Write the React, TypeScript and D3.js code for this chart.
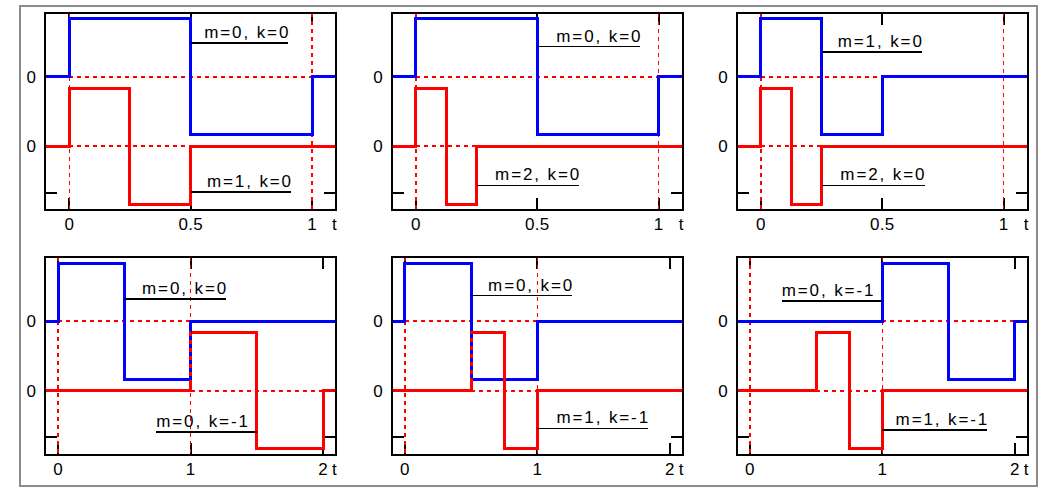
import React, { useEffect, useRef } from "react";
import * as d3 from "d3";

const W = 1057;
const H = 496;

// ---- axes ----
const xDomainTop: [number, number] = [-0.1, 1.1];
const xDomainBottom: [number, number] = [-0.1, 2.1];
const xTicksTop = [0, 0.5, 1];
const xTickLabelsTop = ["0", "0.5", "1"];
const xTicksBottom = [0, 1, 2];
const xTickLabelsBottom = ["0", "1", "2"];
const yDomain: [number, number] = [-1.1, 2.3];
const yTicks = [-0.8];
const channelOffsets = [1.2, 0]; // blue channel, red channel
const zeroLabels = ["0", "0"];
const guideX = [0, 1];
const axisTitle = "t";

// ---- step series: breakpoints t and the value held from each breakpoint ----
const p1BlueT = [-0.1, 0, 0.5, 1, 1.1];
const p1BlueV = [0, 1, -1, 0, 0];
const p1RedT = [-0.1, 0, 0.25, 0.5, 1.1];
const p1RedV = [0, 1, -1, 0, 0];

const p2BlueT = [-0.1, 0, 0.5, 1, 1.1];
const p2BlueV = [0, 1, -1, 0, 0];
const p2RedT = [-0.1, 0, 0.125, 0.25, 1.1];
const p2RedV = [0, 1, -1, 0, 0];

const p3BlueT = [-0.1, 0, 0.25, 0.5, 1.1];
const p3BlueV = [0, 1, -1, 0, 0];
const p3RedT = [-0.1, 0, 0.125, 0.25, 1.1];
const p3RedV = [0, 1, -1, 0, 0];

const p4BlueT = [-0.1, 0, 0.5, 1, 2.1];
const p4BlueV = [0, 1, -1, 0, 0];
const p4RedT = [-0.1, 1, 1.5, 2, 2.1];
const p4RedV = [0, 1, -1, 0, 0];

const p5BlueT = [-0.1, 0, 0.5, 1, 2.1];
const p5BlueV = [0, 1, -1, 0, 0];
const p5RedT = [-0.1, 0.5, 0.75, 1, 2.1];
const p5RedV = [0, 1, -1, 0, 0];

const p6BlueT = [-0.1, 1, 1.5, 2, 2.1];
const p6BlueV = [0, 1, -1, 0, 0];
const p6RedT = [-0.1, 0.5, 0.75, 1, 2.1];
const p6RedV = [0, 1, -1, 0, 0];

// ---- annotations: text, text start (data x), underline (data y), leader target (data x) ----
const blueLabelTexts = ["m=0, k=0", "m=0, k=0", "m=1, k=0", "m=0, k=0", "m=0, k=0", "m=0, k=-1"];
const blueLabelX = [0.556, 0.578, 0.316, 0.633, 0.628, 0.24];
const blueLabelY = [1.78, 1.72, 1.63, 1.58, 1.64, 1.55];
const blueLabelTarget = [0.5, 0.5, 0.25, 0.5, 0.5, 1];

const redLabelTexts = ["m=1, k=0", "m=2, k=0", "m=2, k=0", "m=0, k=-1", "m=1, k=-1", "m=1, k=-1"];
const redLabelX = [0.567, 0.326, 0.327, 0.74, 1.144, 1.1];
const redLabelY = [-0.78, -0.67, -0.67, -0.71, -0.65, -0.68];
const redLabelTarget = [0.5, 0.25, 0.25, 1.5, 1, 1];

// ---- layout ----
const colLeft = [45, 391.7, 736.7];
const boxW = 291.3;
const rowTop = [13, 257.3];
const boxH = 197.3;

const BLUE = "#0000ff";
const RED = "#ff0000";
const FONT = "'Liberation Sans', Arial, sans-serif";

const seriesT = [
  [p1BlueT, p1RedT],
  [p2BlueT, p2RedT],
  [p3BlueT, p3RedT],
  [p4BlueT, p4RedT],
  [p5BlueT, p5RedT],
  [p6BlueT, p6RedT],
];
const seriesV = [
  [p1BlueV, p1RedV],
  [p2BlueV, p2RedV],
  [p3BlueV, p3RedV],
  [p4BlueV, p4RedV],
  [p5BlueV, p5RedV],
  [p6BlueV, p6RedV],
];

export default function App() {
  const ref = useRef<SVGSVGElement>(null);

  useEffect(() => {
    const svg = d3.select(ref.current);
    svg.selectAll("*").remove();

    // outer frame
    svg
      .append("rect")
      .attr("x", 19.5)
      .attr("y", 5.5)
      .attr("width", 1017)
      .attr("height", 480.5)
      .attr("fill", "none")
      .attr("stroke", "#8c8c8c")
      .attr("stroke-width", 2)
      .attr("shape-rendering", "crispEdges");

    for (let p = 0; p < 6; p++) {
      const row = p < 3 ? 0 : 1;
      const col = p % 3;
      const L = colLeft[col];
      const T = rowTop[row];
      const xDomain = row === 0 ? xDomainTop : xDomainBottom;
      const xTicks = row === 0 ? xTicksTop : xTicksBottom;
      const xTickLabels = row === 0 ? xTickLabelsTop : xTickLabelsBottom;

      const x = d3.scaleLinear().domain(xDomain).range([L, L + boxW]);
      const y = d3.scaleLinear().domain(yDomain).range([T + boxH, T]);

      const g = svg.append("g");
      const clipId = `clip${p}`;
      g.append("clipPath")
        .attr("id", clipId)
        .append("rect")
        .attr("x", L)
        .attr("y", T)
        .attr("width", boxW)
        .attr("height", boxH);

      const inner = g
        .append("g")
        .attr("clip-path", `url(#${clipId})`)
        .attr("shape-rendering", "crispEdges");

      // ticks (inward, all four sides)
      const tickLen = 12;
      xTicks.forEach((t) => {
        inner
          .append("line")
          .attr("x1", x(t))
          .attr("x2", x(t))
          .attr("y1", T + boxH)
          .attr("y2", T + boxH - tickLen)
          .attr("stroke", "#000")
          .attr("stroke-width", 2);
        inner
          .append("line")
          .attr("x1", x(t))
          .attr("x2", x(t))
          .attr("y1", T)
          .attr("y2", T + tickLen)
          .attr("stroke", "#000")
          .attr("stroke-width", 2);
      });
      yTicks.forEach((v) => {
        inner
          .append("line")
          .attr("x1", L)
          .attr("x2", L + tickLen)
          .attr("y1", y(v))
          .attr("y2", y(v))
          .attr("stroke", "#000")
          .attr("stroke-width", 2);
        inner
          .append("line")
          .attr("x1", L + boxW - tickLen)
          .attr("x2", L + boxW)
          .attr("y1", y(v))
          .attr("y2", y(v))
          .attr("stroke", "#000")
          .attr("stroke-width", 2);
      });

      // dashed guides: vertical
      guideX.forEach((gx) => {
        inner
          .append("line")
          .attr("x1", x(gx))
          .attr("x2", x(gx))
          .attr("y1", T)
          .attr("y2", T + boxH)
          .attr("stroke", RED)
          .attr("stroke-width", 1.5)
          .attr("stroke-dasharray", "4,4");
      });

      // dashed zero lines over each series' support
      for (let s = 0; s < 2; s++) {
        const ts = seriesT[p][s];
        const vs = seriesV[p][s];
        const first = vs.findIndex((v) => v !== 0);
        let last = first;
        while (last < vs.length && vs[last] !== 0) last++;
        const off = channelOffsets[s];
        inner
          .append("line")
          .attr("x1", x(ts[first]))
          .attr("x2", x(ts[last]))
          .attr("y1", y(off))
          .attr("y2", y(off))
          .attr("stroke", RED)
          .attr("stroke-width", 2)
          .attr("stroke-dasharray", "4,4");
      }

      // traces
      const makePath = (s: number) => {
        const ts = seriesT[p][s];
        const vs = seriesV[p][s];
        const off = channelOffsets[s];
        const pts = ts.map((t, i) => [t, vs[i] + off] as [number, number]);
        return d3
          .line<[number, number]>()
          .x((d) => x(d[0]))
          .y((d) => y(d[1]))
          .curve(d3.curveStepAfter)(pts) as string;
      };
      const redPath = makePath(1);
      const bluePath = makePath(0);
      inner
        .append("path")
        .attr("d", redPath)
        .attr("fill", "none")
        .attr("stroke", RED)
        .attr("stroke-width", 3)
        .attr("stroke-linejoin", "miter")
        .attr("stroke-linecap", "square");
      inner
        .append("path")
        .attr("d", bluePath)
        .attr("fill", "none")
        .attr("stroke", BLUE)
        .attr("stroke-width", 3)
        .attr("stroke-linejoin", "miter")
        .attr("stroke-linecap", "square");
      inner
        .append("path")
        .attr("d", redPath)
        .attr("fill", "none")
        .attr("stroke", RED)
        .attr("stroke-width", 3)
        .attr("stroke-dasharray", "4,4");

      // box
      g.append("rect")
        .attr("x", L)
        .attr("y", T)
        .attr("width", boxW)
        .attr("height", boxH)
        .attr("fill", "none")
        .attr("stroke", "#000")
        .attr("stroke-width", 2)
        .attr("shape-rendering", "crispEdges");

      // zero labels
      channelOffsets.forEach((off, i) => {
        g.append("text")
          .attr("x", L - 9)
          .attr("y", y(off) + 6)
          .attr("text-anchor", "end")
          .attr("font-family", FONT)
          .attr("font-size", 17)
          .text(zeroLabels[i]);
      });

      // x tick labels
      xTicks.forEach((t, i) => {
        g.append("text")
          .attr("x", x(t))
          .attr("y", T + boxH + 20)
          .attr("text-anchor", "middle")
          .attr("font-family", FONT)
          .attr("font-size", 17)
          .attr("letter-spacing", 0.3)
          .text(xTickLabels[i]);
      });
      g.append("text")
        .attr("x", L + boxW - 2)
        .attr("y", T + boxH + 20)
        .attr("text-anchor", "middle")
        .attr("font-family", FONT)
        .attr("font-size", 17)
        .text(axisTitle);

      // annotations
      const labels = [
        { text: blueLabelTexts[p], lx: blueLabelX[p], ly: blueLabelY[p] + channelOffsets[1], target: blueLabelTarget[p] },
        { text: redLabelTexts[p], lx: redLabelX[p], ly: redLabelY[p], target: redLabelTarget[p] },
      ];
      labels.forEach((lb) => {
        const tx = x(lb.lx);
        const uy = y(lb.ly);
        const ls = 1.9;
        const txt = g
          .append("text")
          .attr("x", tx)
          .attr("y", uy - 5)
          .attr("font-family", FONT)
          .attr("font-size", 17)
          .attr("letter-spacing", ls)
          .text(lb.text);
        const node = txt.node() as SVGTextElement;
        const w = node.getComputedTextLength() - ls;
        const tgt = x(lb.target);
        const x1 = Math.min(tx, tgt);
        const x2 = Math.max(tx + w, tgt);
        g.append("line")
          .attr("x1", x1)
          .attr("x2", x2)
          .attr("y1", uy)
          .attr("y2", uy)
          .attr("stroke", "#000")
          .attr("stroke-width", 1.6)
          .attr("shape-rendering", "crispEdges");
      });
    }
  }, []);

  return (
    <svg
      ref={ref}
      width={W}
      height={H}
      style={{ position: "absolute", left: 0, top: 0, background: "#fff" }}
    />
  );
}
